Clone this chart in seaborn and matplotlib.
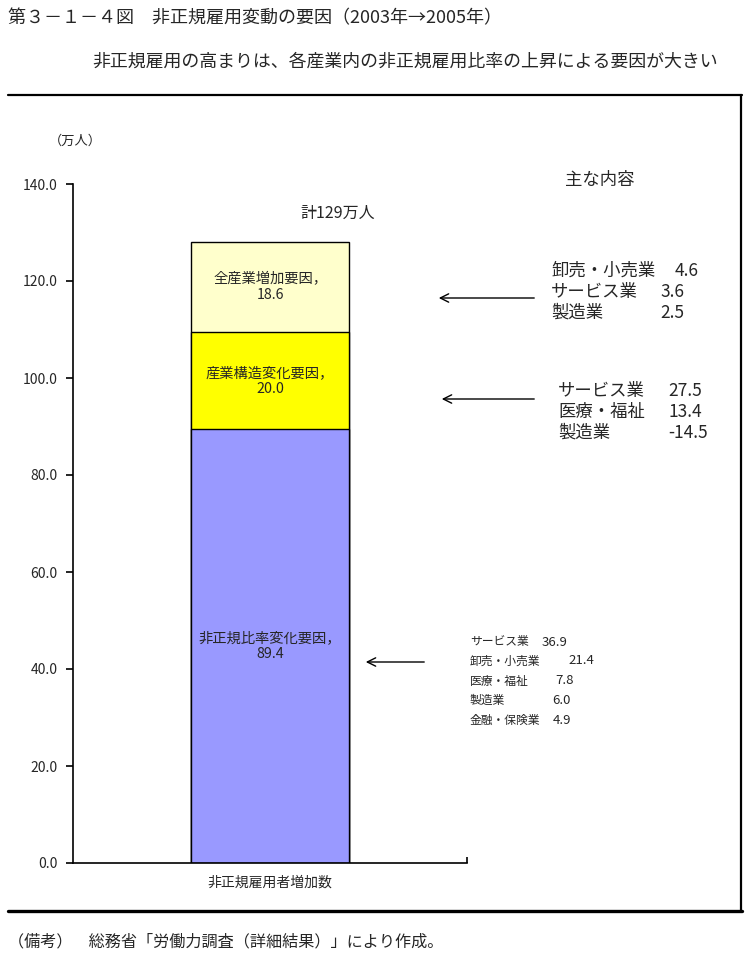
import matplotlib
matplotlib.use("Agg")
import matplotlib.pyplot as plt
from matplotlib.lines import Line2D
import seaborn as sns
import numpy as np
import pandas as pd

# ---------------- data ----------------
category = ["非正規雇用者増加数"]
segment_names = ["非正規比率変化要因", "産業構造変化要因", "全産業増加要因"]
segment_values = [89.4, 20.0, 18.6]
total_label = "計129万人"
y_ticks = [0, 20, 40, 60, 80, 100, 120, 140]

detail1_labels = ["卸売・小売業", "サービス業", "製造業"]
detail1_values = ["4.6", "3.6", "2.5"]
detail2_labels = ["サービス業", "医療・福祉", "製造業"]
detail2_values = ["27.5", "13.4", "-14.5"]
detail3_labels = ["サービス業", "卸売・小売業", "医療・福祉", "製造業", "金融・保険業"]
detail3_values = ["36.9", "21.4", "7.8", "6.0", "4.9"]

title = "第３－１－４図　非正規雇用変動の要因（2003年→2005年）"
subtitle = "非正規雇用の高まりは、各産業内の非正規雇用比率の上昇による要因が大きい"
note = "（備考）　総務省「労働力調査（詳細結果）」により作成。"

# ---------------- style ----------------
seg_colors = ["#9999FF", "#FFFF00", "#FFFFCC"]
sns.set_theme(style="white")
plt.rcParams["font.family"] = ["Noto Sans CJK JP", "DejaVu Sans"]

W, H = 755, 958
fig = plt.figure(figsize=(W / 100, H / 100), dpi=100)
fig.patch.set_facecolor("white")
ax = fig.add_axes([73 / W, 1 - 863 / H, (467 - 73) / W, (863 - 184) / H])
ax.set_facecolor("white")

# stacked bar via overlaid cumulative bars (largest first)
cum = np.cumsum(segment_values)
for i in reversed(range(len(segment_values))):
    df = pd.DataFrame({"cat": category, "val": [cum[i]]})
    sns.barplot(data=df, x="cat", y="val", color=seg_colors[i], saturation=1,
                edgecolor="black", linewidth=1.0, width=0.4, ax=ax)

ax.set_ylim(0, 140)
ax.set_xlim(-0.5, 0.5)
ax.set_yticks(y_ticks)
ax.set_yticklabels([f"{t:.1f}" for t in y_ticks], fontsize=10)
ax.set_xticks([])
ax.set_xlabel(category[0], fontsize=10, labelpad=6)
ax.set_ylabel("")
for s in ["top", "right"]:
    ax.spines[s].set_visible(False)
for s in ["left", "bottom"]:
    ax.spines[s].set_color("black")
    ax.spines[s].set_linewidth(1.2)
ax.tick_params(axis="y", direction="out", length=5, width=1.2, color="black", pad=6, left=True)
ax.set_xticks([0.5], minor=True)
ax.tick_params(axis="x", which="minor", direction="in", length=4, width=1.2, color="black", bottom=True)

# segment labels
bottoms = np.concatenate([[0], cum[:-1]])
for name, v, b in zip(segment_names, segment_values, bottoms):
    ax.text(0, b + v / 2, f"{name}，\n{v:.1f}", ha="center", va="center",
            fontsize=10.3, linespacing=1.2)


def ftext(px, py, s, **kw):
    fig.text(px / W, 1 - py / H, s, **kw)


def farrow(x0, x1, py):
    fig.add_artist(matplotlib.patches.FancyArrowPatch(
        (x0 / W, 1 - py / H), (x1 / W, 1 - py / H), transform=fig.transFigure,
        arrowstyle="->,head_length=6,head_width=3", color="black", lw=1.0,
        mutation_scale=1))


ftext(338, 213, total_label, ha="center", va="center", fontsize=11.5)
ftext(75, 141, "（万人）", ha="center", va="center", fontsize=9.5)
ftext(600, 180, "主な内容", ha="center", va="center", fontsize=12.5)

# detail blocks
b1_y = [271, 292, 313]
b1_vx = [675, 660, 660]
for lab, val, y, vx in zip(detail1_labels, detail1_values, b1_y, b1_vx):
    ftext(551, y, lab, ha="left", va="center", fontsize=12.5)
    ftext(vx, y, val, ha="left", va="center", fontsize=12.5)

b2_y = [391, 412, 433]
b2_vx = [668, 668, 668]
for lab, val, y, vx in zip(detail2_labels, detail2_values, b2_y, b2_vx):
    ftext(558, y, lab, ha="left", va="center", fontsize=12.5)
    ftext(vx, y, val, ha="left", va="center", fontsize=12.5)

b3_y = [642, 661, 681, 700, 720]
b3_vx = [542, 568, 555, 552, 553]
for lab, val, y, vx in zip(detail3_labels, detail3_values, b3_y, b3_vx):
    ftext(470, y, lab, ha="left", va="center", fontsize=8.5)
    ftext(vx, y, val, ha="left", va="center", fontsize=9.5)

farrow(537, 436, 298)
farrow(537, 439, 399)
farrow(427, 363, 662)

# titles / notes
ftext(8, 18, title, ha="left", va="center", fontsize=13)
ftext(92, 62, subtitle, ha="left", va="center", fontsize=12.9)
ftext(8, 942, note, ha="left", va="center", fontsize=11.6)

# frame lines
fig.add_artist(Line2D([8 / W, 742 / W], [1 - 95 / H, 1 - 95 / H], color="black", lw=1.6,
                      transform=fig.transFigure))
fig.add_artist(Line2D([741 / W, 741 / W], [1 - 95 / H, 1 - 911 / H], color="black", lw=1.6,
                      transform=fig.transFigure))
fig.add_artist(Line2D([8 / W, 742 / W], [1 - 911 / H, 1 - 911 / H], color="black", lw=2.4,
                      transform=fig.transFigure))

fig.savefig("out.png", dpi=100, facecolor="white")
